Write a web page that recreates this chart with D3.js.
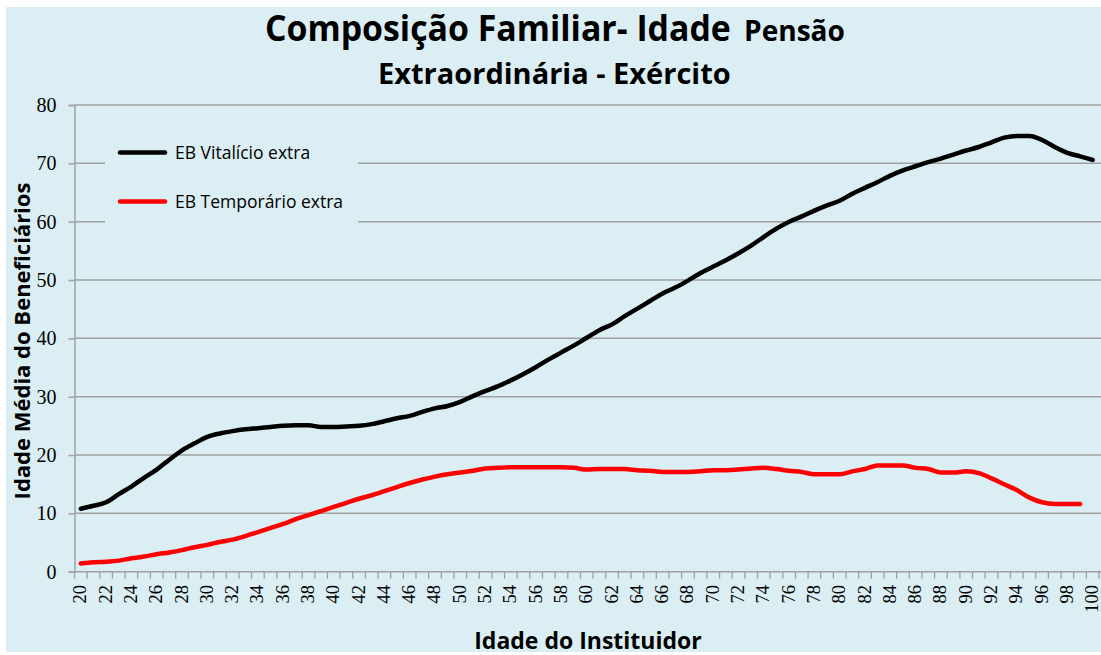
<!DOCTYPE html>
<html>
<head>
<meta charset="utf-8">
<script src="https://cdn.jsdelivr.net/npm/d3@7"></script>
<style>
  html, body { margin: 0; padding: 0; background: #ffffff; }
  svg { display: block; }
</style>
</head>
<body>
<svg id="chart" width="1101" height="655"></svg>
<script>
// ---------- data ----------
const ages = [20,21,22,23,24,25,26,27,28,29,30,31,32,33,34,35,36,37,38,39,40,41,42,43,44,45,46,47,48,49,50,51,52,53,54,55,56,57,58,59,60,61,62,63,64,65,66,67,68,69,70,71,72,73,74,75,76,77,78,79,80,81,82,83,84,85,86,87,88,89,90,91,92,93,94,95,96,97,98,99,100];

const vitalicio = [10.8,11.3,11.9,13.3,14.6,16.1,17.5,19.2,20.8,22.0,
  23.1,23.7,24.1,24.4,24.6,24.8,25.0,25.1,25.1,24.8,
  24.8,24.9,25.0,25.3,25.8,26.3,26.7,27.4,28.0,28.4,
  29.1,30.1,31.0,31.8,32.8,33.9,35.1,36.4,37.6,38.8,
  40.1,41.4,42.4,43.8,45.1,46.4,47.7,48.7,49.9,51.2,
  52.3,53.4,54.6,55.9,57.4,58.8,60.0,60.9,61.9,62.8,
  63.6,64.8,65.8,66.8,67.9,68.8,69.5,70.2,70.8,71.5,
  72.2,72.8,73.6,74.4,74.7,74.7,74.0,72.8,71.8,71.2,
  70.6];

const temporario = [1.4,1.6,1.7,1.9,2.3,2.6,3.0,3.3,3.7,4.2,
  4.6,5.1,5.5,6.1,6.8,7.5,8.2,9.0,9.7,10.4,
  11.1,11.8,12.5,13.1,13.8,14.5,15.2,15.8,16.3,16.7,
  17.0,17.3,17.7,17.8,17.9,17.9,17.9,17.9,17.9,17.8,
  17.5,17.6,17.6,17.6,17.4,17.3,17.1,17.1,17.1,17.2,
  17.4,17.4,17.5,17.7,17.8,17.6,17.3,17.1,16.7,16.7,
  16.7,17.2,17.6,18.2,18.2,18.2,17.8,17.6,17.0,17.0,
  17.2,16.9,16.0,15.0,14.0,12.7,11.9,11.6,11.6,11.6,
  null];

const yTicks = [0,10,20,30,40,50,60,70,80];
const seriesNames = ["EB Vitalício extra", "EB Temporário extra"];
const seriesColors = ["#000000", "#ff0000"];
const titleMain = "Composição Familiar- Idade";
const titleSmall = "Pensão";
const titleLine2 = "Extraordinária - Exército";
const yTitle = "Idade Média do Beneficiários";
const xTitle = "Idade do Instituidor";

// ---------- layout ----------
const svg = d3.select("#chart");
const bg = "#DAEEF3";
const plot = {left: 74.5, right: 1099, top: 105, bottom: 571.7};

svg.append("rect").attr("x", 6).attr("y", 7).attr("width", 1095).attr("height", 645).attr("fill", bg);

const x = d3.scaleBand().domain(ages).range([plot.left, plot.right]).padding(0);
const y = d3.scaleLinear().domain([0, 80]).range([plot.bottom, plot.top]);
const bw = x.bandwidth();

// gridlines
svg.append("g").selectAll("line").data(yTicks.filter(d => d > 0)).join("line")
  .attr("x1", plot.left).attr("x2", 1101)
  .attr("y1", d => y(d)).attr("y2", d => y(d))
  .attr("stroke", "#a0a0a0").attr("stroke-width", 1.5);

// y axis
const yAxis = svg.append("g").attr("transform", `translate(${plot.left},0)`)
  .call(d3.axisLeft(y).tickValues(yTicks).tickSize(6).tickPadding(12));
yAxis.select(".domain").attr("stroke", "#a0a0a0").attr("stroke-width", 1.5);
yAxis.selectAll(".tick line").attr("stroke", "#a0a0a0").attr("stroke-width", 1.5);
yAxis.selectAll("text").attr("font-family", "'Liberation Serif', serif").attr("font-size", 20).attr("fill", "#000");

// x axis line + ticks at band edges
svg.append("line").attr("x1", plot.left).attr("x2", 1101)
  .attr("y1", plot.bottom).attr("y2", plot.bottom)
  .attr("stroke", "#a0a0a0").attr("stroke-width", 1.5);
const edges = ages.map(a => x(a)).concat([x(ages[ages.length - 1]) + bw]);
svg.append("g").selectAll("line").data(edges).join("line")
  .attr("x1", d => d).attr("x2", d => d)
  .attr("y1", plot.bottom).attr("y2", plot.bottom + 7)
  .attr("stroke", "#a0a0a0").attr("stroke-width", 1.3);

// x tick labels (every 2)
svg.append("g").selectAll("text").data(ages.filter(a => a % 2 === 0)).join("text")
  .attr("transform", d => `translate(${x(d) + bw / 2 + 5.5},585) rotate(-90)`)
  .attr("text-anchor", "end")
  .attr("font-family", "'Liberation Serif', serif").attr("font-size", 18.5)
  .attr("fill", "#000")
  .text(d => d);

// lines
const line = d3.line()
  .defined(d => d.v !== null)
  .x(d => x(d.a) + bw / 2)
  .y(d => y(d.v))
  .curve(d3.curveMonotoneX);

[vitalicio, temporario].forEach((vals, i) => {
  svg.append("path")
    .datum(ages.map((a, j) => ({a: a, v: vals[j]})))
    .attr("d", line)
    .attr("fill", "none")
    .attr("stroke", seriesColors[i])
    .attr("stroke-width", 4.5)
    .attr("stroke-linejoin", "round")
    .attr("stroke-linecap", "round");
});

// legend
const lg = svg.append("g");
lg.append("rect").attr("x", 105).attr("y", 122).attr("width", 253).attr("height", 112).attr("fill", bg);
seriesNames.forEach((name, i) => {
  const yy = 152.5 + i * 49;
  lg.append("line").attr("x1", 120).attr("x2", 165).attr("y1", yy).attr("y2", yy)
    .attr("stroke", seriesColors[i]).attr("stroke-width", 4.5).attr("stroke-linecap", "round");
  lg.append("text").attr("x", 175).attr("y", yy + 6)
    .attr("font-family", "'Open Sans', sans-serif").attr("font-size", 17.5)
    .attr("fill", "#000").text(name);
});

// titles: horizontally condensed via transform so that boxes match the rendered glyphs
function condensedText(str, left, baseline, size, width) {
  const t = svg.append("text").attr("x", 0).attr("y", 0).attr("text-anchor", "start")
    .attr("font-family", "'Open Sans', sans-serif").attr("font-weight", "bold")
    .attr("font-size", size).attr("fill", "#000").text(str);
  const natural = t.node().getComputedTextLength();
  const sx = Math.min(1, width / natural);
  t.attr("transform", `translate(${left},${baseline}) scale(${sx},1)`);
  return t;
}
condensedText(titleMain, 265, 41, 36, 466);
condensedText(titleSmall, 744, 41, 29, 101);
condensedText(titleLine2, 378, 84, 29, 355);

svg.append("text").attr("transform", "translate(30,341) rotate(-90)")
  .attr("text-anchor", "middle")
  .attr("font-family", "'Open Sans', sans-serif").attr("font-weight", "bold")
  .attr("font-size", 22).attr("fill", "#000").text(yTitle);

svg.append("text").attr("x", 588).attr("y", 649).attr("text-anchor", "middle")
  .attr("font-family", "'Open Sans', sans-serif").attr("font-weight", "bold")
  .attr("font-size", 23).attr("fill", "#000").text(xTitle);
</script>
</body>
</html>
